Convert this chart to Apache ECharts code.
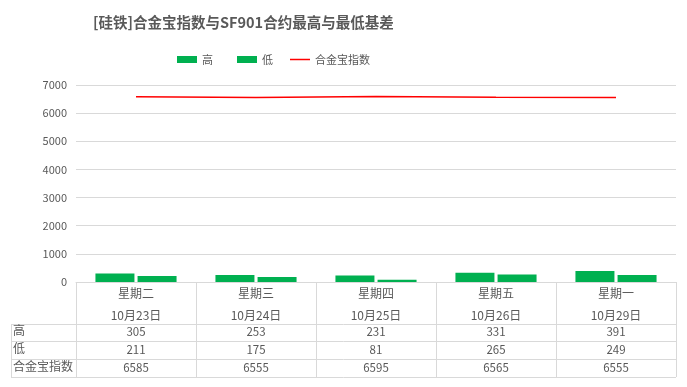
<!DOCTYPE html>
<html>
<head>
<meta charset="utf-8">
<script src="https://cdn.jsdelivr.net/npm/echarts@6/dist/echarts.min.js"></script>
<style>html,body{margin:0;padding:0;background:#fff;}#main{width:687px;height:387px;}</style>
</head>
<body>
<div id="main"></div>
<script>
var weekdays = ['星期二', '星期三', '星期四', '星期五', '星期一'];
var dates = ['10月23日', '10月24日', '10月25日', '10月26日', '10月29日'];
var highVals = [305, 253, 231, 331, 391];
var lowVals = [211, 175, 81, 265, 249];
var indexVals = [6585, 6555, 6595, 6565, 6555];
var rowNames = ['高', '低', '合金宝指数'];
var yTicks = {min: 0, max: 7000, interval: 1000};

var FONT = '"Noto Sans CJK SC", "Noto Sans", sans-serif';
var TXT = '#595959';
var LINE = '#d9d9d9';
var G = {left: 76, right: 11, top: 85, bottom: 105};
var W = 687, H = 387;
var x0 = 11, x1 = W - G.right;
var rowLines = [324, 341, 359, 377];

var categories = weekdays.map(function (w, i) { return w + '\n' + dates[i]; });

function valueAxis(arr, offset) {
  return {
    type: 'category', position: 'bottom', offset: offset, data: categories,
    axisLine: {show: false}, axisTick: {show: false},
    axisLabel: {
      interval: 0, margin: 0, color: TXT, fontFamily: FONT, fontSize: 11.5, lineHeight: 14,
      formatter: function (v, i) { return String(arr[i]); }
    }
  };
}

var graphics = [];
rowLines.forEach(function (y) {
  graphics.push({type: 'line', shape: {x1: x0, y1: y + 0.5, x2: x1, y2: y + 0.5}, style: {stroke: LINE, lineWidth: 1}, silent: true});
});
graphics.push({type: 'line', shape: {x1: x0 + 0.5, y1: rowLines[0], x2: x0 + 0.5, y2: rowLines[3]}, style: {stroke: LINE, lineWidth: 1}, silent: true});
rowNames.forEach(function (n, i) {
  graphics.push({type: 'text', left: 13, top: (rowLines[i] + rowLines[i + 1]) / 2 - 8,
    style: {text: n, fill: TXT, font: '12px ' + FONT}, silent: true});
});

var legendText = {color: TXT, fontFamily: FONT, fontSize: 11};
var chart = echarts.init(document.getElementById('main'), null, {renderer: 'canvas'});
chart.setOption({
  backgroundColor: '#fff',
  animation: false,
  title: {
    text: '[硅铁]合金宝指数与SF901合约最高与最低基差',
    left: 88, top: 10,
    textStyle: {color: TXT, fontFamily: FONT, fontSize: 14.5, fontWeight: 'bold'}
  },
  legend: [
    {
      left: 172, top: 49, itemWidth: 20, itemHeight: 7, itemGap: 24,
      textStyle: legendText,
      data: [{name: '高', icon: 'rect'}, {name: '低', icon: 'rect'}]
    },
    {
      left: 285, top: 49, itemWidth: 20, itemHeight: 1.5,
      textStyle: legendText,
      data: [{name: '合金宝指数', icon: 'rect'}]
    }
  ],
  grid: {left: G.left, right: G.right, top: G.top, bottom: G.bottom, containLabel: false},
  xAxis: [
    {
      type: 'category', data: categories, position: 'bottom',
      axisLine: {show: true, lineStyle: {color: LINE}},
      axisTick: {show: true, interval: 0, length: 95, lineStyle: {color: LINE}},
      axisLabel: {interval: 0, margin: 0, color: TXT, fontFamily: FONT, fontSize: 12, lineHeight: 22}
    },
    valueAxis(highVals, 43),
    valueAxis(lowVals, 61),
    valueAxis(indexVals, 79)
  ],
  yAxis: {
    type: 'value', min: yTicks.min, max: yTicks.max, interval: yTicks.interval,
    axisLine: {show: false}, axisTick: {show: false},
    axisLabel: {color: TXT, fontFamily: FONT, fontSize: 11, margin: 9, formatter: function (v) { return String(v); }},
    splitLine: {lineStyle: {color: LINE}}
  },
  series: [
    {name: '高', type: 'bar', data: highVals, barWidth: 39, barGap: '8%', itemStyle: {color: '#00B050'}},
    {name: '低', type: 'bar', data: lowVals, barWidth: 39, barGap: '8%', itemStyle: {color: '#00B050'}},
    {name: '合金宝指数', type: 'line', data: indexVals, symbol: 'none', lineStyle: {color: '#FF0000', width: 1.5}, itemStyle: {color: '#FF0000'}, z: 5}
  ],
  graphic: graphics
});
</script>
</body>
</html>
